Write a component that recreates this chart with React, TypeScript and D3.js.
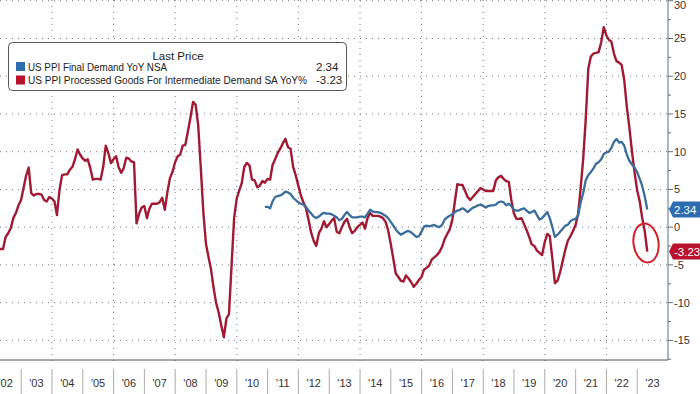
import React from 'react'
import * as d3 from 'd3'

// US PPI Processed Goods For Intermediate Demand SA YoY%, monthly from Jan 2002
const processedStart = [2002, 0]
const processedGoods = [
  -5.0, -4.0, -2.7, -2.9, -2.9, -1.3, -0.8, -0.1, 1.2, 1.9, 2.9, 3.6,
  5.3, 6.8, 7.9, 4.5, 4.2, 4.4, 4.4, 4.3, 3.6, 3.4, 4.0, 3.8,
  3.4, 1.6, 5.0, 6.9, 7.0, 7.0, 7.6, 8.0, 9.0, 10.3, 9.6, 9.1,
  8.8, 9.0, 7.8, 6.3, 6.4, 6.4, 6.3, 8.0, 10.8, 9.8, 8.5, 9.0,
  9.4, 8.0, 7.2, 7.8, 9.2, 9.1, 8.7, 8.6, 0.5, 1.8, 2.6, 2.8,
  1.2, 2.4, 3.1, 3.1, 3.1, 3.3, 3.9, 2.3, 4.6, 6.5, 7.3, 8.6,
  9.4, 9.6, 10.8, 10.9, 12.7, 14.5, 16.6, 16.2, 13.5, 7.8, 2.0, -2.2,
  -4.0, -5.5, -8.0, -10.0, -11.3, -13.0, -14.6, -12.1, -11.5, -5.0, 1.2, 3.8,
  4.9, 5.8, 8.0, 8.5, 8.2, 6.3, 6.2, 5.3, 5.5, 6.1, 5.9, 6.4,
  6.3, 8.2, 9.0, 9.8, 10.4, 11.1, 11.7, 10.6, 10.4, 8.0, 6.9, 5.5,
  4.2, 3.3, 2.5, 1.0, -0.7, -1.8, -2.5, -0.8, -0.2, 0.8, 0.0, 0.4,
  0.9, 1.2, -0.6, -0.8, 0.0, 0.7, 1.1, 0.0, -0.8, -0.5, 0.0, 0.3,
  0.6, -0.2, 1.2, 1.9, 1.5, 1.5, 1.5, 1.4, 1.2, 0.7, -0.4, -2.2,
  -4.2, -6.1, -6.6, -7.1, -7.2, -6.4, -6.8, -7.3, -7.9, -7.5, -7.0, -6.6,
  -5.6, -5.4, -5.1, -4.3, -4.0, -3.7, -3.3, -2.6, -1.6, -0.9, -0.3, 1.0,
  3.5, 5.7, 5.6, 5.6, 4.8, 4.0, 3.6, 4.0, 4.4, 4.8, 5.2, 5.0,
  4.8, 4.8, 4.8, 4.8, 6.2, 6.6, 6.8, 6.4, 6.1, 6.0, 3.6, 1.8,
  1.1, 1.1, 1.2, 0.4, -0.4, -1.3, -2.3, -2.5, -3.1, -3.4, -3.7, -2.0,
  -0.9, -1.2, -4.2, -7.4, -7.1, -6.0, -4.5, -3.0, -1.8, -1.2, -0.5, 0.3,
  1.8, 5.0, 9.0, 14.2, 21.0, 22.6, 23.0, 23.1, 23.2, 24.5, 26.5, 25.4,
  24.8, 24.6, 23.0, 22.0, 21.8, 21.5, 19.5, 15.9, 13.2, 10.0, 7.3, 4.9,
  3.4, 1.3, -0.5, -3.23,
]

// US PPI Final Demand YoY NSA, monthly from Nov 2010
const finalStart = [2010, 10]
const finalDemand = [
  2.7, 2.7,
  2.5, 3.4, 4.0, 4.1, 4.2, 4.4, 4.7, 4.6, 4.4, 3.9, 3.6, 3.3,
  3.1, 3.0, 2.7, 2.2, 1.8, 1.4, 1.2, 1.4, 1.7, 1.9, 1.8, 1.8,
  1.7, 1.5, 1.3, 0.9, 1.1, 1.6, 2.0, 1.6, 1.3, 1.3, 1.3, 1.4,
  1.4, 1.3, 1.8, 2.3, 2.1, 2.0, 2.0, 1.9, 1.7, 1.5, 1.2, 0.7,
  0.2, -0.3, -0.7, -1.0, -0.8, -0.6, -0.5, -0.7, -1.0, -1.3, -1.2, -0.6,
  0.1, 0.2, 0.1, 0.2, 0.3, 0.1, 0.0, 0.3, 1.0, 1.3, 1.5, 1.7,
  2.0, 2.2, 2.3, 2.5, 2.3, 2.0, 2.3, 2.6, 2.7, 2.9, 3.0, 2.8,
  2.6, 2.8, 2.9, 2.9, 3.0, 3.3, 3.4, 3.3, 2.9, 3.1, 2.8, 2.3,
  2.2, 2.2, 2.4, 2.5, 2.2, 1.9, 2.0, 2.2, 1.6, 1.0, 1.2, 1.6,
  2.0, 1.2, 0.0, -1.3, -1.0, -0.6, -0.2, 0.2, 0.3, 0.8, 1.0, 1.1,
  1.6, 3.2, 4.5, 6.2, 6.9, 7.3, 7.8, 8.4, 8.6, 9.0, 9.7, 9.9,
  10.0, 10.5, 11.3, 11.7, 11.2, 11.3, 10.8, 9.6, 8.8, 8.3, 7.9, 7.3,
  6.4, 5.5, 4.1, 2.34,
]

const seriesNames = [
  'US PPI Final Demand YoY NSA',
  'US PPI Processed Goods For Intermediate Demand SA YoY%',
]
const lastValues = ['2.34', '-3.23']
const yTicks = [-15, -10, -5, 0, 5, 10, 15, 20, 25, 30]
const years = d3.range(2002, 2024)

const BLUE = '#3a6d9c'
const RED = '#a01a33'
const FONT = "'Liberation Sans', Arial, sans-serif"

// monthly points are plotted at month end
function toPoints(start, values) {
  return values.map((v, i) => ({ date: new Date(start[0], start[1] + i + 1, 0), value: v }))
}

export default function App() {
  const width = 700
  const height = 394
  const plotRight = 668
  const plotBottom = 360
  const yearWidth = 30.8

  const x = d3.scaleTime()
    .domain([new Date(2002, 0, 1), new Date(2024, 0, 1)])
    .range([plotRight - 22 * yearWidth, plotRight])

  const y = d3.scaleLinear().domain([-17.6, 30.1]).range([plotBottom, 0])

  const line = d3.line()
    .x(d => x(d.date))
    .y(d => y(d.value))

  const red = toPoints(processedStart, processedGoods)
  const blue = toPoints(finalStart, finalDemand)

  const minorTicks = d3.range(-17.5, 30, 2.5).filter(v => v % 5 !== 0)
  const gridYears = years.filter(yr => yr % 2 === 0 && yr > 2002)

  const tag = (value, color, label) => {
    const ty = y(value)
    return (
      <g>
        <path d={`M${plotRight + 1},${ty} L${plotRight + 5},${ty - 8} L${width},${ty - 8} L${width},${ty + 8} L${plotRight + 5},${ty + 8} Z`} fill={color} />
        <text x={plotRight + 6} y={ty + 4} fill="#fff" fontSize={11.5} fontFamily={FONT}>{label}</text>
      </g>
    )
  }

  return (
    <svg width={width} height={height} style={{ position: 'fixed', left: 0, top: 0, background: '#fff' }}>
      <defs>
        <clipPath id="plot">
          <rect x={0} y={0} width={plotRight} height={plotBottom} />
        </clipPath>
      </defs>

      {/* grid */}
      {yTicks.map(t => (
        <line key={'gy' + t} x1={0} x2={plotRight} y1={y(t)} y2={y(t)} stroke="#777" strokeWidth={1} strokeDasharray="1,5" />
      ))}
      {gridYears.map(yr => (
        <line key={'gx' + yr} x1={x(new Date(yr, 0, 1))} x2={x(new Date(yr, 0, 1))} y1={0} y2={plotBottom + 4} stroke="#777" strokeWidth={1} strokeDasharray="1,5" />
      ))}

      {/* lines */}
      <g clipPath="url(#plot)">
        <path d={line(red)} fill="none" stroke={RED} strokeWidth={2.4} strokeLinejoin="round" />
        <path d={line(blue)} fill="none" stroke={BLUE} strokeWidth={2.3} strokeLinejoin="round" />
      </g>

      {/* axes */}
      <line x1={0} x2={plotRight} y1={plotBottom} y2={plotBottom} stroke="#555" strokeWidth={1} />
      <line x1={plotRight} x2={plotRight} y1={0} y2={plotBottom} stroke="#5b6e80" strokeWidth={1} />
      {yTicks.map(t => (
        <g key={'yt' + t}>
          <line x1={plotRight} x2={plotRight + 5} y1={y(t)} y2={y(t)} stroke="#5b6e80" />
          <text x={plotRight + 6} y={Math.max(y(t) + 4, 9)} fontSize={11} fill="#333" fontFamily={FONT}>{t}</text>
        </g>
      ))}
      {minorTicks.map(t => (
        <line key={'mt' + t} x1={plotRight} x2={plotRight + 3} y1={y(t)} y2={y(t)} stroke="#5b6e80" />
      ))}
      {years.map(yr => (
        <g key={'yr' + yr}>
          {yr > 2002 && (
            <line x1={x(new Date(yr, 0, 1))} x2={x(new Date(yr, 0, 1))} y1={plotBottom + 9} y2={height} stroke="#aaa" />
          )}
          <text x={x(new Date(yr, 6, 1))} y={387} textAnchor="middle" fontSize={11} fill="#333" fontFamily={FONT}>
            {"'" + String(yr).slice(2)}
          </text>
        </g>
      ))}

      {/* value tags */}
      {tag(2.34, '#2e6cb0', lastValues[0])}
      {tag(-3.23, '#b8122d', lastValues[1])}

      {/* annotation circle */}
      <ellipse cx={646} cy={243} rx={12.5} ry={19.5} fill="none" stroke="#d3202a" strokeWidth={2} transform="rotate(-8 646 243)" />

      {/* legend */}
      <rect x={8.5} y={42.5} width={338} height={48} rx={4} fill="#fff" stroke="#555" />
      <text x={178} y={60} textAnchor="middle" fontSize={11.5} fill="#222" fontFamily={FONT}>Last Price</text>
      <rect x={16} y={62} width={9} height={9} fill="#2e6cb0" />
      <text x={28} y={71} fontSize={10.8} fill="#222" fontFamily={FONT} textLength={139} lengthAdjust="spacingAndGlyphs">{seriesNames[0]}</text>
      <text x={316} y={71} fontSize={11.5} fill="#222" fontFamily={FONT}>{lastValues[0]}</text>
      <rect x={16} y={75.5} width={9} height={9} fill="#b8122d" />
      <text x={28} y={84} fontSize={10.8} fill="#222" fontFamily={FONT} textLength={279} lengthAdjust="spacingAndGlyphs">{seriesNames[1]}</text>
      <text x={316} y={84} fontSize={11.5} fill="#222" fontFamily={FONT}>{lastValues[1]}</text>
    </svg>
  )
}
